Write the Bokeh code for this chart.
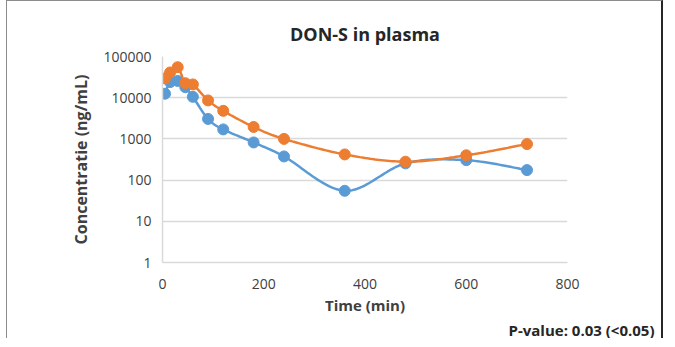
import numpy as np
from bokeh.plotting import figure
from bokeh.models import Range1d, FixedTicker, NumeralTickFormatter, Title
from bokeh.embed import file_html
from bokeh.resources import INLINE

# ---- data ----
time_blue = [5, 15, 30, 45, 60, 90, 120, 180, 240, 360, 480, 600, 720]
conc_blue = [12500, 24000, 25500, 18000, 10500, 3050, 1700, 820, 375, 55, 255, 305, 175]
time_orange = [5, 15, 30, 45, 60, 90, 120, 180, 240, 360, 480, 600, 720]
conc_orange = [29500, 41000, 55000, 22500, 21000, 8600, 4800, 1950, 1000, 420, 280, 400, 750]
x_ticks = [0, 200, 400, 600, 800]
y_ticks = [1, 10, 100, 1000, 10000, 100000]

BLUE = "#5B9BD5"
ORANGE = "#ED7D31"
FONT = "Open Sans"

FRAME_W, FRAME_H = 405, 208
SX = FRAME_W / 800.0
SY = FRAME_H / 5.0


def smooth(xs, ys, n=24):
    """Excel-like smoothed line (Catmull-Rom Bezier) in screen-proportional space."""
    P = np.array([[x * SX, np.log10(y) * SY] for x, y in zip(xs, ys)])
    out = []
    m = len(P)
    for i in range(m - 1):
        p0 = P[i - 1] if i > 0 else P[i]
        p1 = P[i]
        p2 = P[i + 1]
        p3 = P[i + 2] if i + 2 < m else P[i + 1]
        c1 = p1 + (p2 - p0) / 6.0
        c2 = p2 - (p3 - p1) / 6.0
        t = np.linspace(0, 1, n, endpoint=(i == m - 2))[:, None]
        seg = ((1 - t) ** 3) * p1 + 3 * ((1 - t) ** 2) * t * c1 + 3 * (1 - t) * t ** 2 * c2 + t ** 3 * p2
        out.append(seg)
    out = np.vstack(out)
    return out[:, 0] / SX, 10 ** (out[:, 1] / SY)


p = figure(width=657, height=338, y_axis_type="log",
           x_range=Range1d(0, 800), y_range=Range1d(1, 100000),
           output_backend="svg", toolbar_location=None,
           min_border_left=155, min_border_right=97,
           min_border_top=55, min_border_bottom=75)
p.styles = {"margin-left": "6px",
            "border-left": "1px solid #8c8c8c",
            "border-top": "1px solid #8c8c8c",
            "border-right": "2px solid #262626"}
p.outline_line_color = None
p.background_fill_color = "white"
p.border_fill_color = "white"

# title
p.title.text = "DON-S in plasma"
p.title.text_font = FONT
p.title.text_font_style = "bold"
p.title.text_font_size = "18px"
p.title.text_color = "#262626"
p.title.align = "center"
p.title.standoff = 21

# axes
p.xaxis.ticker = FixedTicker(ticks=x_ticks)
p.yaxis.ticker = FixedTicker(ticks=y_ticks)
p.yaxis.formatter = NumeralTickFormatter(format="0")
for ax in (p.xaxis, p.yaxis):
    ax.axis_line_color = "#d9d9d9"
    ax.axis_line_width = 1.5
    ax.major_tick_line_color = None
    ax.minor_tick_line_color = None
    ax.major_label_text_font = FONT
    ax.major_label_text_font_size = "14px"
    ax.major_label_text_color = "#404040"
    ax.axis_label_text_font = FONT
    ax.axis_label_text_font_style = "bold"
    ax.axis_label_text_color = "#404040"
p.xaxis.axis_label_text_font_size = "15px"
p.yaxis.axis_label_text_font_size = "16px"
p.xaxis.axis_label = "Time (min)"
p.yaxis.axis_label = "Concentratie (ng/mL)"
p.xaxis.major_label_standoff = 10
p.yaxis.major_label_standoff = 5
p.xaxis.axis_label_standoff = 3
p.yaxis.axis_label_standoff = 8

p.xgrid.grid_line_color = None
p.ygrid.grid_line_color = "#d9d9d9"
p.ygrid.grid_line_width = 1.5

# series
bx, by = smooth(time_blue, conc_blue)
p.line(bx, by, line_color=BLUE, line_width=2.5)
p.scatter(time_blue, conc_blue, size=11, fill_color=BLUE, line_color=BLUE)

ox, oy = smooth(time_orange, conc_orange)
p.line(ox, oy, line_color=ORANGE, line_width=2.5)
p.scatter(time_orange, conc_orange, size=11, fill_color=ORANGE, line_color=ORANGE)

# p-value note
p.add_layout(Title(text="P-value: 0.03 (<0.05)", align="right",
                   text_font=FONT, text_font_style="bold", text_font_size="15px",
                   text_color="#262626", standoff=0, offset=-87), "below")

open("out.html", "w").write(file_html(p, INLINE))
